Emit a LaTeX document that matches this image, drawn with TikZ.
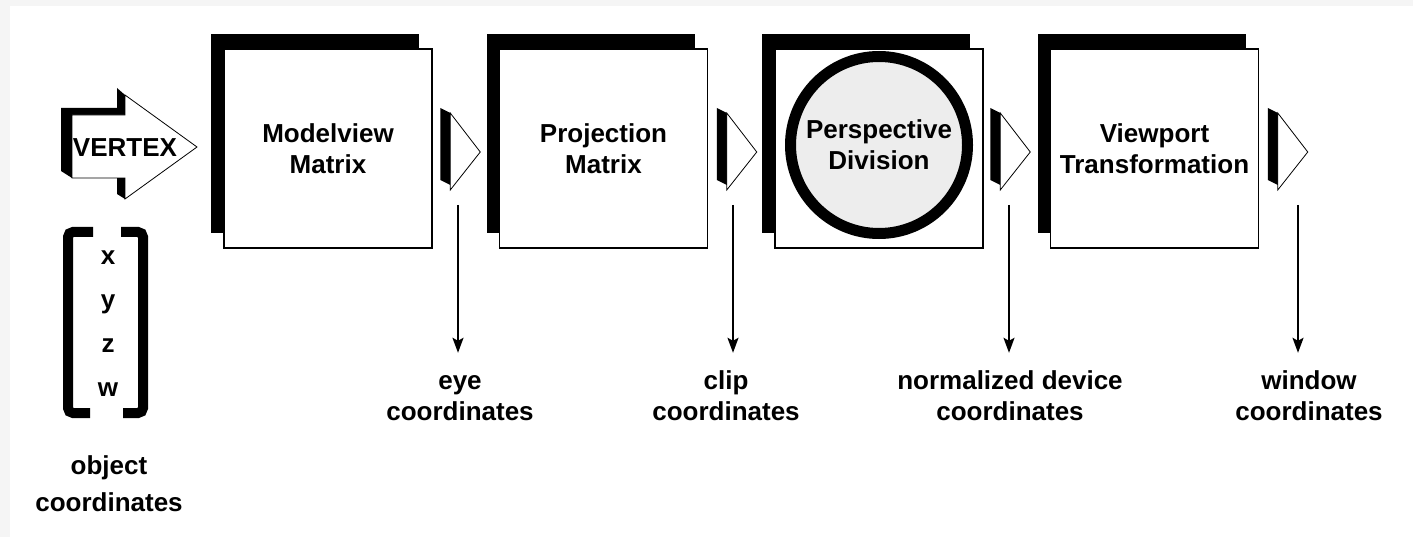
\documentclass[tikz,border=0pt]{standalone}
\usepackage{fontspec}
\setmainfont{Liberation Sans}
\usepackage{tikz}
\usetikzlibrary{positioning, calc, shadows, arrows.meta}

\begin{document}
\begin{tikzpicture}[x=1pt, y=-1pt, font=\fontsize{26}{31}\selectfont\bfseries,
stage/.style = {draw, line width=1.5pt, fill=white, minimum width=208pt, minimum height=199pt, align=center,
  general shadow={fill=black, shadow xshift=-13pt, shadow yshift=15pt}},
persp/.style = {draw, circle, line width=11pt, fill=black!7, minimum size=177pt, inner sep=0pt, align=center},
lbl/.style = {anchor=base, inner xsep=0pt, inner ysep=17pt, text height=50pt, align=center},
down/.style = {line width=2pt, -{Stealth[length=15pt, width=11pt, inset=3pt]}},
chev/.pic = {
  \fill (0,-44) -- (10,-39) -- (10,33) -- (0,28) -- cycle;
  \draw[fill=white, line width=0.8pt] (10,-39) -- (40,0) -- (10,38) -- cycle;
}]
\useasboundingbox (0,0) rectangle (1413,537);
\fill[black!4] (0,0) rectangle (1413,537);
\fill[white] (10,6) rectangle (1413,537);

% vertex arrow
\fill (61,108) -- (117,108) -- (117,88) -- (125,95) -- (125,115) -- (72,115) -- (72,178) -- (61,171) -- cycle;
\fill (117,178) -- (125,178) -- (125,199) -- (117,194) -- cycle;
\draw[fill=white, line width=0.8pt] (72,115) -- (125,115) -- (125,95) -- (197,147) -- (125,199) -- (125,178) -- (72,178) -- cycle;
\node (vtx) at (125,148) {VERTEX};

% vector
\node[align=center, anchor=base, font=\fontsize{26}{44}\selectfont\bfseries] (vec) at (108,396) {x\\y\\z\\w};
\draw[line width=10pt, rounded corners=5pt] (93,232) -- (68,232) -- (68,413) -- (90,413);
\draw[line width=10pt, rounded corners=5pt] (121,232) -- (143,232) -- (143,413) -- (123,413);
\node[align=center, anchor=base, font=\fontsize{26}{37}\selectfont\bfseries] (obj) at (109,511) {object\\coordinates};

% stages
\node[stage] (mv) at (328,148.5) {Modelview\\Matrix};
\node[stage, right=66pt of mv] (pm) {Projection\\Matrix};
\node[stage, right=66pt of pm] (pdv) {};
\node[stage, right=66pt of pdv] (vp) {Viewport\\Transformation};
\node[persp] (pd) at ($(pdv.center)+(0,-3.5)$) {Perspective\\Division};

\pic at ($(mv.east)+(7.5,3.5)$) {chev};
\pic at ($(pm.east)+(8.5,3.5)$) {chev};
\pic at ($(pdv.east)+(6.5,3.5)$) {chev};
\pic at ($(vp.east)+(8.5,3.5)$) {chev};

% outputs
\coordinate (c1) at (458,205);
\coordinate (c2) at (733,205);
\coordinate (c3) at (1009,205);
\coordinate (c4) at (1298,205);
\node[lbl] (eye) at (460,420) {eye\\coordinates};
\node[lbl] (clip) at (726,420) {clip\\coordinates};
\node[lbl] (ndc) at (1010,420) {normalized device\\coordinates};
\node[lbl] (win) at (1309,420) {window\\coordinates};
\draw[down] (c1) -- (c1 |- eye.north);
\draw[down] (c2) -- (c2 |- clip.north);
\draw[down] (c3) -- (c3 |- ndc.north);
\draw[down] (c4) -- (c4 |- win.north);
\end{tikzpicture}
\end{document}
